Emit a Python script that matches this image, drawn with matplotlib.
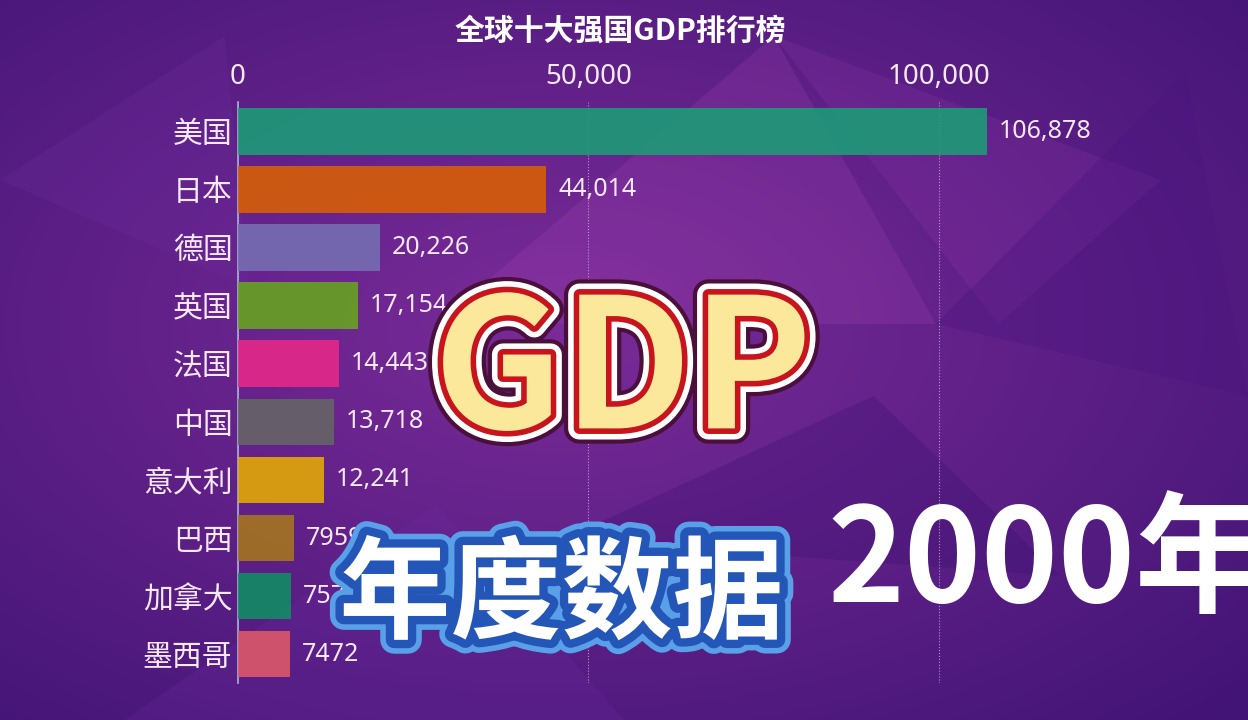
import numpy as np
import matplotlib.pyplot as plt
import matplotlib.patheffects as pe
from matplotlib.patches import Polygon

plt.rcParams['font.family'] = ['Noto Sans CJK SC', 'DejaVu Sans']

# data (亿美元, 2000)
countries = ['美国', '日本', '德国', '英国', '法国', '中国', '意大利', '巴西', '加拿大', '墨西哥']
gdp = [106878, 44014, 20226, 17154, 14443, 13718, 12241, 7959, 7570, 7472]
colors = ['#1b9e77', '#d95f02', '#7570b3', '#66a61e', '#e7298a',
          '#666666', '#e6ab02', '#a6761d', '#0f8f63', '#e05a6a']
ticks = [0, 50000, 100000]
tick_labels = ['0', '50,000', '100,000']

fig = plt.figure(figsize=(12.48, 7.2), dpi=100)

# purple background
bg = fig.add_axes([0, 0, 1, 1], zorder=-10)
h, w = 360, 624
yy, xx = np.mgrid[0:h, 0:w]
d = np.sqrt(((xx - 0.45 * w) / w) ** 2 + ((yy - 0.45 * h) / h) ** 2)
t = np.clip(d / 0.75, 0, 1)[..., None]
c_in = np.array([0.48, 0.17, 0.60])
c_out = np.array([0.26, 0.08, 0.46])
img = c_in * (1 - t) + c_out * t
bg.imshow(img, extent=[0, 1, 0, 1], aspect='auto', origin='upper')
polys = [
    ([(0.35, 0.55), (0.62, 0.95), (0.75, 0.55)], '#b04ab8', 0.2),
    ([(0.62, 0.95), (0.80, 0.55), (0.93, 0.75)], '#9a3ab0', 0.2),
    ([(0.0, 0.75), (0.18, 0.95), (0.2, 0.6)], '#6a2a9a', 0.3),
    ([(0.45, 0.25), (0.70, 0.45), (0.85, 0.2)], '#3a1070', 0.3),
    ([(0.75, 0.55), (1.0, 0.45), (0.95, 0.9)], '#4a1580', 0.35),
    ([(0.1, 0.0), (0.35, 0.3), (0.5, 0.0)], '#6a2aa0', 0.25),
]
for pts, col, a in polys:
    bg.add_patch(Polygon(pts, closed=True, color=col, alpha=a, lw=0))
bg.set_xlim(0, 1)
bg.set_ylim(0, 1)
bg.axis('off')

# bar chart
ax = fig.add_axes([0.1907, 0.051, 0.70, 0.807])
ax.patch.set_alpha(0)
y = np.arange(len(countries))
ax.barh(y, gdp, height=0.8, color=colors, alpha=0.88, zorder=3)
ax.set_ylim(len(countries) - 0.5, -0.5)
ax.set_xlim(0, 124700)
ax.set_yticks(y)
ax.set_yticklabels(countries, fontsize=21.5, color='#f6e8f6')
ax.xaxis.tick_top()
ax.set_xticks(ticks)
ax.set_xticklabels(tick_labels, fontsize=20, color='#f6e8f6', family=['Noto Sans'])
ax.tick_params(axis='x', length=0, pad=8)
ax.tick_params(axis='y', length=0, pad=4)
ax.grid(axis='x', color='#d8c8e8', lw=0.8, ls=':', alpha=0.7, zorder=1)
for s in ['top', 'right', 'bottom']:
    ax.spines[s].set_visible(False)
ax.spines['left'].set_color('#a8b0d0')
ax.spines['left'].set_linewidth(1.2)

for yi, v in zip(y, gdp):
    lab = f'{v:,}' if v >= 10000 else str(v)
    ax.text(v + 1700, yi, lab, va='center', ha='left', fontsize=18,
            color='#f6e8f6', family=['Noto Sans'], zorder=4)

fig.text(0.497, 0.958, '全球十大强国GDP排行榜', ha='center', va='center',
         fontsize=21.5, fontweight='bold', color='white')

# overlay decorations
fig.text(0.499, 0.405, 'GDP', ha='center', va='baseline', fontsize=130,
         fontweight='bold', color='#fbe89a',
         path_effects=[pe.Stroke(linewidth=22, foreground='#4a0f3a'),
                       pe.Stroke(linewidth=16, foreground='white'),
                       pe.Stroke(linewidth=8, foreground='#c8141c'),
                       pe.Normal()])
fig.text(0.450, 0.17, '年度数据', ha='center', va='center', fontsize=80,
         fontweight='bold', color='white',
         path_effects=[pe.Stroke(linewidth=20, foreground='#5aa0e8'),
                       pe.Stroke(linewidth=12, foreground='#2456b8'),
                       pe.Normal()])
fig.text(0.663, 0.164, '2000年', ha='left', va='baseline', fontsize=94,
         fontweight='bold', color='white')

fig.savefig('out.png', dpi=100)
